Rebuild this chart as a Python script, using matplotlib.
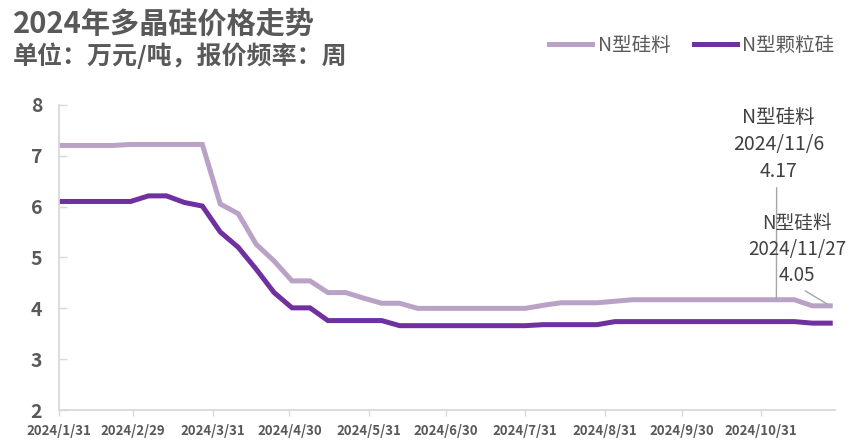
import matplotlib
matplotlib.use("Agg")
import matplotlib.pyplot as plt
import pandas as pd

plt.rcParams['font.family'] = ['Noto Sans CJK SC', 'DejaVu Sans']

# weekly quotes (Wednesdays), 万元/吨
dates = ['2024-01-31', '2024-02-07', '2024-02-14', '2024-02-21', '2024-02-28',
         '2024-03-06', '2024-03-13', '2024-03-20', '2024-03-27', '2024-04-03',
         '2024-04-10', '2024-04-17', '2024-04-24', '2024-05-01', '2024-05-08',
         '2024-05-15', '2024-05-22', '2024-05-29', '2024-06-05', '2024-06-12',
         '2024-06-19', '2024-06-26', '2024-07-03', '2024-07-10', '2024-07-17',
         '2024-07-24', '2024-07-31', '2024-08-07', '2024-08-14', '2024-08-21',
         '2024-08-28', '2024-09-04', '2024-09-11', '2024-09-18', '2024-09-25',
         '2024-10-02', '2024-10-09', '2024-10-16', '2024-10-23', '2024-10-30',
         '2024-11-06', '2024-11-13', '2024-11-20', '2024-11-27']

n_silicon = [7.20, 7.20, 7.20, 7.20, 7.22, 7.22, 7.22, 7.22, 7.22, 6.05,
             5.86, 5.26, 4.93, 4.54, 4.54, 4.31, 4.31, 4.20, 4.10, 4.10,
             4.00, 4.00, 4.00, 4.00, 4.00, 4.00, 4.00, 4.06, 4.11, 4.11,
             4.11, 4.14, 4.17, 4.17, 4.17, 4.17, 4.17, 4.17, 4.17, 4.17,
             4.17, 4.17, 4.05, 4.05]

n_granular = [6.10, 6.10, 6.10, 6.10, 6.10, 6.21, 6.21, 6.08, 6.01, 5.50,
              5.20, 4.77, 4.31, 4.01, 4.01, 3.76, 3.76, 3.76, 3.76, 3.66,
              3.66, 3.66, 3.66, 3.66, 3.66, 3.66, 3.66, 3.68, 3.68, 3.68,
              3.68, 3.74, 3.74, 3.74, 3.74, 3.74, 3.74, 3.74, 3.74, 3.74,
              3.74, 3.74, 3.71, 3.71]

tick_labels = ['2024/1/31', '2024/2/29', '2024/3/31', '2024/4/30', '2024/5/31',
               '2024/6/30', '2024/7/31', '2024/8/31', '2024/9/30', '2024/10/31']

series_names = ['N型硅料', 'N型颗粒硅']

x = pd.to_datetime(dates)
ticks = pd.to_datetime(tick_labels, format='%Y/%m/%d')

light = '#B9A2C6'
dark = '#7030A0'
grey = '#595959'

fig = plt.figure(figsize=(8.65, 4.42), dpi=100)
ax = fig.add_axes([0.068, 0.072, 0.897, 0.691])

ax.plot(x, n_silicon, color=light, lw=3.6, label=series_names[0], solid_joinstyle='miter')
ax.plot(x, n_granular, color=dark, lw=3.6, label=series_names[1], solid_joinstyle='miter')

ax.set_ylim(2, 8)
ax.set_yticks([2, 3, 4, 5, 6, 7, 8])
ax.set_xlim(pd.Timestamp('2024-01-31'), pd.Timestamp('2024-11-28 18:00'))
ax.set_xticks(ticks)
ax.set_xticklabels(tick_labels)

for s in ['top', 'right']:
    ax.spines[s].set_visible(False)
for s in ['left', 'bottom']:
    ax.spines[s].set_color('#D9D9D9')
    ax.spines[s].set_linewidth(1.3)

ax.tick_params(axis='y', direction='in', length=6, color='#D9D9D9', width=1,
               labelsize=14, labelcolor=grey, pad=12)
ax.tick_params(axis='x', direction='out', length=4, color='#D9D9D9', width=1,
               labelsize=9.5, labelcolor=grey, pad=6)
for t in ax.get_xticklabels() + ax.get_yticklabels():
    t.set_fontweight('bold')

# data labels with leader lines
ann_color = '#404040'
i1 = dates.index('2024-11-06')
ax.annotate('N型硅料\n2024/11/6\n%.2f' % n_silicon[i1],
            xy=(x[i1], n_silicon[i1]), xytext=(x[i1] + pd.Timedelta(days=0.8), 6.48),
            ha='center', va='bottom', fontsize=14, color=ann_color, linespacing=1.38,
            arrowprops=dict(arrowstyle='-', color='#A6A6A6', lw=1,
                            shrinkA=2, shrinkB=0, relpos=(0.48, 0)))
i2 = dates.index('2024-11-27')
ax.annotate('N型硅料\n2024/11/27\n%.2f' % n_silicon[i2],
            xy=(x[i2], n_silicon[i2]), xytext=(x[i2] - pd.Timedelta(days=13), 4.44),
            ha='center', va='bottom', fontsize=13.5, color=ann_color, linespacing=1.3,
            arrowprops=dict(arrowstyle='-', color='#A6A6A6', lw=1,
                            shrinkA=3, shrinkB=2, relpos=(0.5, 0)))

fig.text(0.015, 0.946, '2024年多晶硅价格走势', fontsize=21, fontweight='bold',
         color=grey, va='center', ha='left')
fig.text(0.015, 0.873, '单位：万元/吨，报价频率：周', fontsize=18, fontweight='bold',
         color=grey, va='center', ha='left')

leg = fig.legend(loc='center right', bbox_to_anchor=(0.985, 0.898), ncol=2,
                 frameon=False, fontsize=14, handlelength=2.2, handletextpad=0.3,
                 columnspacing=1.2)
for t in leg.get_texts():
    t.set_color(grey)

fig.savefig('out.png', dpi=100)
